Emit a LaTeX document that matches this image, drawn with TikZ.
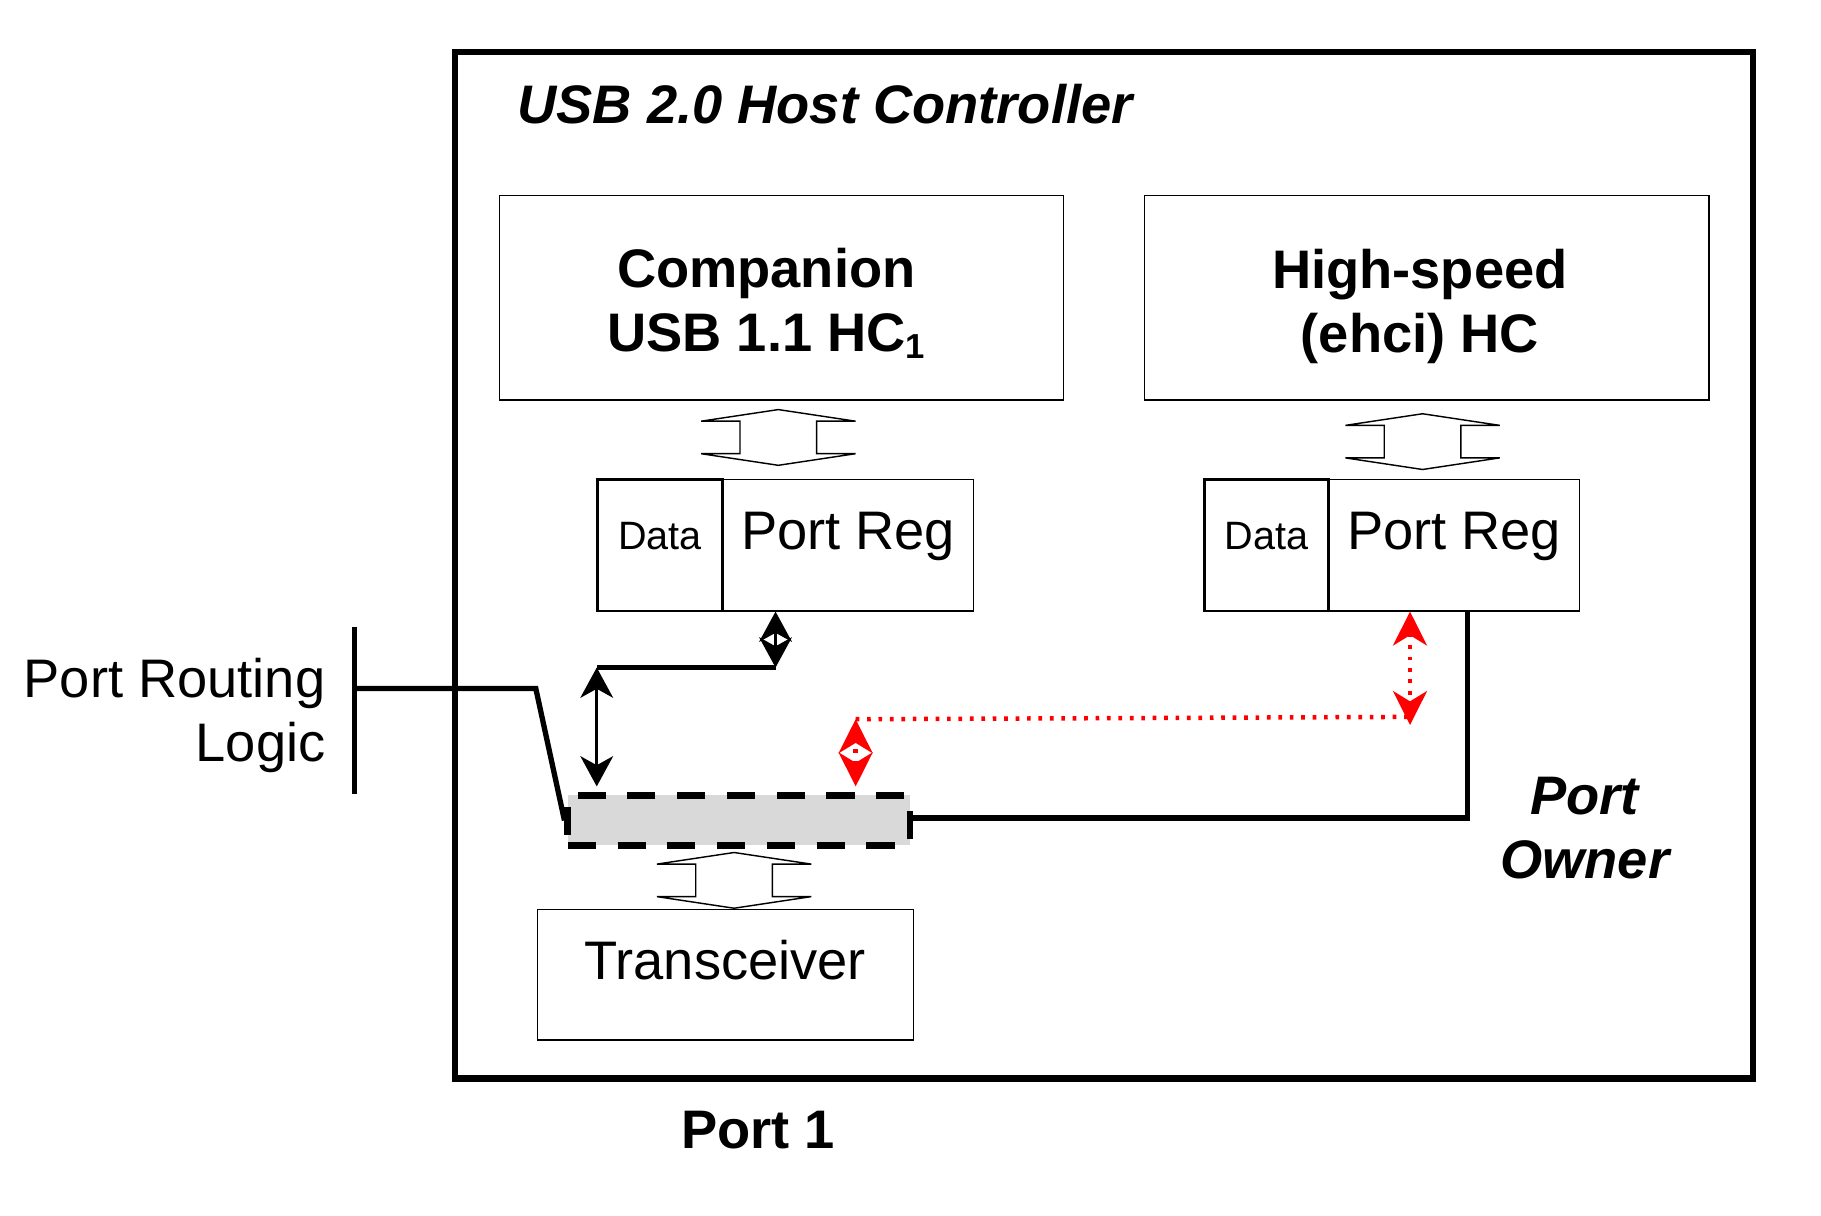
\documentclass[tikz,border=0pt]{standalone}
\usepackage{fontspec}
\setmainfont{Liberation Sans}
\usetikzlibrary{arrows.meta,positioning,calc}

\tikzset{
  big/.style={font=\fontsize{13.3}{15.6}\selectfont, inner sep=0pt},
  bigbold/.style={font=\fontsize{13.3}{15.6}\selectfont\bfseries, inner sep=0pt},
  bigslant/.style={font=\fontsize{13.3}{15.6}\selectfont\bfseries\itshape, inner sep=0pt},
  hcbox/.style={draw, line width=0.3pt, minimum width=48.6mm, minimum height=17.6mm},
  regbox/.style={draw, line width=0.3pt, inner sep=0pt, minimum width=21.6mm,
    text height=5.96mm, text depth=5.33mm, font=\fontsize{13.3}{15.6}\selectfont},
  databox/.style={draw, line width=0.7pt, inner sep=0pt, minimum width=10.7mm,
    text height=5.96mm, text depth=5.33mm, font=\fontsize{9.7}{11}\selectfont},
  muxbox/.style={draw, fill=black!15, line width=1.6pt, dash pattern=on 6.9pt off 5.3pt,
    minimum width=29.5mm, minimum height=4.3mm, inner sep=0pt},
  wire/.style={line width=1.3pt},
  blackarrow/.style={line width=0.8pt, >={Stealth[length=7.4pt, width=8pt, inset=2.2pt]}, <->},
  redarrow/.style={red, line width=1.1pt, dash pattern=on 0.9pt off 1.9pt,
    >={Stealth[length=8.3pt, width=8.3pt, inset=2.5pt]}, <->},
  reddots/.style={red, line width=1.1pt, dash pattern=on 0.9pt off 1.9pt},
  busarrow/.pic={
    \draw[line width=0.35pt] (0,-24) -- (66.5,-14) -- (33,-14) -- (33,14) -- (66.5,14)
      -- (0,24) -- (-66.5,14) -- (-33,14) -- (-33,-14) -- (-66.5,-14) -- cycle;
  }
}
\newcommand{\lowone}{\raisebox{-1.6pt}{\fontsize{8.5}{9}\selectfont 1}}

\begin{document}
\begin{tikzpicture}[x=0.1mm, y=-0.1mm]
    \useasboundingbox (0,0) rectangle (1568.5,1047.4);

    % USB 2.0 host controller frame
    \node[draw, line width=1.5pt, minimum width=111.8mm, minimum height=88.4mm, inner sep=0pt] (hc) at (951,487) {};
    \node[bigslant, anchor=base west] (title) at (445,106) {USB 2.0 Host Controller};

    % Companion and high-speed controllers
    \node[hcbox] (comp) at (673,256.5) {};
    \node[bigbold, align=center, anchor=base] (compname) at (660,302.9) {Companion\\USB 1.1 HC\lowone};
    \node[hcbox] (ehci) at (1229,256.5) {};
    \node[bigbold, align=center, anchor=base] (ehciname) at (1223,303.7) {High-speed\\(ehci) HC};

    % Port registers
    \node[regbox] (reg1) at (730.5,469.8) {Port Reg};
    \node[databox] (data1) at (568.5,469.8) {Data};
    \node[regbox] (reg2) at (1252.5,469.8) {Port Reg};
    \node[databox] (data2) at (1091,469.8) {Data};

    % Port switch and transceiver
    \node[muxbox] (mux) at (636.5,706.7) {};
    \node[draw, line width=0.3pt, minimum width=32.4mm, big, text height=6.03mm, text depth=5.23mm] (xcvr) at (624.75,839.5) {Transceiver};

    % Bus arrows
    \pic at (670.4,376.8) {busarrow};
    \pic at (1225.3,380.4) {busarrow};
    \pic at (632.3,758.3) {busarrow};

    % Companion data path
    \coordinate (bend1) at (668,575);
    \coordinate (bend2) at (514,575);
    \draw[blackarrow] (reg1.south -| bend1) -- (bend1);
    \draw[wire] (bend1) -- (bend2);
    \draw[blackarrow] (bend2) -- ($(mux.north -| bend2)+(0,-5)$);

    % High-speed data path
    \coordinate (rl) at (737,619.5);
    \coordinate (rr) at (1214.5,617.5);
    \draw[redarrow] ($(mux.north -| rl)+(0,-5)$) -- (rl);
    \draw[reddots] (rl) -- (rr);
    \draw[redarrow] (reg2.south -| rr) -- ($(rr)+(0,7)$);

    % Port routing logic
    \node[big, align=right, anchor=base east] (prl) at (281,656) {Port Routing\\Logic};
    \coordinate (bartop) at (305.5,540);
    \coordinate (barbot) at (305.5,684);
    \coordinate (tap) at (305.5,593);
    \draw[wire] (bartop) -- (barbot);
    \draw[wire] (tap) -- (461.5,593) -- (mux.west);

    % Port owner select
    \coordinate (own) at ($(reg2.south)+(11.5,0)$);
    \draw[wire] (own) |- ($(mux.east)+(0,-2)$);
    \node[bigslant, align=center, anchor=base] (owner) at (1365,756.5) {Port\\Owner};

    \node[bigbold, anchor=base] (port) at (653,989) {Port 1};
\end{tikzpicture}
\end{document}
